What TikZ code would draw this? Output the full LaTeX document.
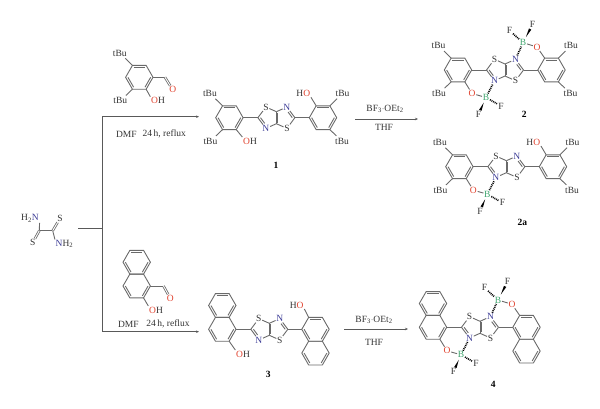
\documentclass[tikz,border=0pt]{standalone}
\usepackage{fontspec}
\setmainfont{Liberation Serif}
\usetikzlibrary{calc,arrows.meta}

\definecolor{bondcol}{HTML}{6A6A6A}
\definecolor{txtcol}{HTML}{333333}
\definecolor{ored}{HTML}{E0402C}
\definecolor{nblue}{HTML}{3C3C96}
\definecolor{bgreen}{HTML}{3FA46E}

\tikzset{
	bond/.style = {draw=bondcol, line width=0.9pt},
	dbond/.style = {draw=bondcol, line width=0.8pt, double=white, double distance=0.9pt},
	hbond/.style = {draw=black, line width=1.7pt, dash pattern=on 0.9pt off 0.9pt},
	rline/.style = {draw=black!65, line width=0.8pt},
	atom/.style = {font=\fontsize{9.5}{9.5}\selectfont, text=txtcol, inner sep=0.6pt},
	oatom/.style = {atom, text=ored},
	natom/.style = {atom, text=nblue},
	batom/.style = {atom, text=bgreen},
	cpd/.style = {font=\fontsize{9.5}{9.5}\selectfont\bfseries, text=black, inner sep=0.5pt},
	cond/.style = {font=\fontsize{9.5}{9.5}\selectfont, text=txtcol, inner sep=0.5pt},
	% one benzene ring, origin in its centre
	hexring/.pic = {
		\coordinate (-c) at (0,0);
		\coordinate (-l) at (-13.7,0);
		\coordinate (-tl) at (-6.85,-11.9);
		\coordinate (-tr) at (6.85,-11.9);
		\coordinate (-r) at (13.7,0);
		\coordinate (-br) at (6.85,11.9);
		\coordinate (-bl) at (-6.85,11.9);
		\draw[bond] (-l) -- (-tl) -- (-tr) -- (-r) -- (-br) -- (-bl) -- cycle;
		\dbl{-l}{-bl}{-c}
		\dbl{-r}{-br}{-c}
	},
	% aryl ring with its two tBu on the west side
	arylw/.pic = {
		\pic (-h) at (0,0) {hexring};
		\node[atom] (-tb1) at (-19.5,-24.3) {tBu};
		\node[atom] (-tb2) at (-19,23.5) {tBu};
		\draw[bond, shorten >=2pt] (-h-tl) -- (-tb1);
		\draw[bond, shorten >=2pt] (-h-bl) -- (-tb2);
		\dbl{-h-tl}{-h-tr}{-h-c}
	},
	% the same with tBu on the east side
	arye/.pic = {
		\pic (-h) at (0,0) {hexring};
		\node[atom] (-tb1) at (19.5,-24.3) {tBu};
		\node[atom] (-tb2) at (19,23.5) {tBu};
		\draw[bond, shorten >=2pt] (-h-tr) -- (-tb1);
		\draw[bond, shorten >=2pt] (-h-br) -- (-tb2);
		\dbl{-h-tl}{-h-tr}{-h-c}
	},
	% two fused rings, the lower one carries the origin
	napht/.pic = {
		\pic (-h) at (0,0) {hexring};
		\pic (-u) at (0,-23.8) {hexring};
		\dbl{-u-tl}{-u-tr}{-u-c}
	},
	ttcore/.pic = {
		\coordinate (-lc) at (-8,0);
		\coordinate (-rc) at (8,0);
		\coordinate (-cl) at (-18.5,0);
		\coordinate (-cr) at (18.5,0);
		\coordinate (-ca) at (0,-6);
		\coordinate (-cb) at (0,6);
		\node[atom] (-s1) at (-10.5,-10.7) {S};
		\node[natom] (-n1) at (-10.5,10.7) {N};
		\node[natom] (-n2) at (10.5,-10.7) {N};
		\node[atom] (-s2) at (10.5,10.7) {S};
		\draw[bond] (-cl) -- (-s1);
		\draw[bond] (-s1) -- (-ca);
		\draw[bond] (-ca) -- (-n2);
		\draw[bond] (-cr) -- (-s2);
		\draw[bond] (-s2) -- (-cb);
		\draw[bond] (-cb) -- (-n1);
		\draw[bond] (-cl) -- (-n1);
		\draw[bond] (-cr) -- (-n2);
		\draw[bond] (-ca) -- (-cb);
		\draw[bond, shorten >=3pt] ($(-cl)!.25!(-lc)$) -- ($(-n1)!.25!(-lc)$);
		\draw[bond, shorten >=3pt] ($(-cr)!.25!(-rc)$) -- ($(-n2)!.25!(-rc)$);
		\dbl{-ca}{-cb}{-rc}
	},
	bflow/.pic = {
		\node[batom] (-b) at (-19,27.5) {B};
		\node[oatom] (-o) at (-33,23.5) {O};
		\node[atom] (-f1) at (-4,36) {F};
		\node[atom] (-f2) at (-26.5,44.5) {F};
		\draw[bond] (-o) -- (-b);
		\draw[hbond] (-b) -- (-f1);
		\wedgeb{-b}{-f2}
	},
	bfup/.pic = {
		\node[batom] (-b) at (18,-27.3) {B};
		\node[oatom] (-o) at (32,-23) {O};
		\node[atom] (-f1) at (4.5,-39.5) {F};
		\node[atom] (-f2) at (27.5,-45.5) {F};
		\draw[bond] (-o) -- (-b);
		\draw[hbond] (-b) -- (-f1);
		\wedgeb{-b}{-f2}
	}
}

% inner line of a ring double bond: end, end, ring centre
\newcommand{\dbl}[3]{\draw[bond] ($(#1)!.17!(#3)$) -- ($(#2)!.17!(#3)$);}
\newcommand{\wedgeb}[2]{\fill[black] ($(#1)!.3!(#2)$) -- ($(#1)!.75!(#2)!1.3pt!90:(#2)$) -- ($(#1)!.75!(#2)!1.3pt!-90:(#2)$) -- cycle;}

\begin{document}
\begin{tikzpicture}[x=1pt, y=-1pt]
	\useasboundingbox (0,0) rectangle (600,408);

	% dithiooxamide
	\coordinate (oxl) at (39.3,230.7);
	\coordinate (oxr) at (52.7,230.7);
	\node[atom] (oxn1) at (30,218.3) {H\textsubscript{2}\textcolor{nblue}{N}};
	\node[atom] (oxs1) at (60,218.3) {S};
	\node[atom] (oxs2) at (32.7,242.7) {S};
	\node[atom] (oxn2) at (64.5,244) {\textcolor{nblue}{N}H\textsubscript{2}};
	\draw[bond] (oxn1.south east) -- (oxl);
	\draw[bond] (oxl) -- (oxr);
	\draw[bond] (oxr) -- (oxn2.north west);
	\draw[dbond] (oxl) -- (oxs2);
	\draw[dbond] (oxr) -- (oxs1);

	% branching reaction lines
	\coordinate (stub) at (78.3,228.3);
	\coordinate (fork) at (102.3,228.3);
	\coordinate (forkt) at (102.3,116.7);
	\coordinate (forkb) at (102.3,331.7);
	\coordinate (arr1) at (199,116.7);
	\coordinate (arr2) at (199,331.7);
	\draw[rline] (stub) -- (fork);
	\draw[rline] (forkt) -- (forkb);
	\draw[rline, -{Stealth[length=3pt,width=2.5pt]}] (forkt) -- (arr1);
	\draw[rline, -{Stealth[length=3pt,width=2.5pt]}] (forkb) -- (arr2);
	\node[cond] (dmf1) at (126.3,134.3) {DMF};
	\node[cond] (time1) at (164.3,134.3) {24\,h, reflux};
	\node[cond] (dmf2) at (128.3,324.3) {DMF};
	\node[cond] (time2) at (168,324.3) {24\,h, reflux};

	% salicylaldehyde
	\pic (ald1) at (139.3,77.3) {arylw};
	\coordinate (ald1c) at (165,77.3);
	\node[oatom] (ald1o) at (172.7,89.7) {O};
	\node[atom] (ald1oh) at (158,100.7) {\textcolor{ored}{O}H};
	\draw[bond] (ald1-h-r) -- (ald1c);
	\draw[dbond] (ald1c) -- (ald1o);
	\draw[bond] (ald1-h-br) -- (ald1oh.north west);

	% naphthaldehyde
	\pic (ald2) at (136.7,286) {napht};
	\coordinate (ald2c) at (163.5,286);
	\node[oatom] (ald2o) at (170.3,298.3) {O};
	\node[atom] (ald2oh) at (156,310) {\textcolor{ored}{O}H};
	\draw[bond] (ald2-h-r) -- (ald2c);
	\draw[dbond] (ald2c) -- (ald2o);
	\draw[bond] (ald2-h-br) -- (ald2oh.north west);

	% compound 1
	\pic (m1) at (276.4,117.7) {ttcore};
	\pic (a1l) at (229.4,117.7) {arylw};
	\pic (a1r) at (323,117.7) {arye};
	\draw[bond] (a1l-h-r) -- (m1-cl);
	\draw[bond] (a1r-h-l) -- (m1-cr);
	\node[atom] (oh1) at (250,141) {\textcolor{ored}{O}H};
	\node[atom] (ho1) at (303.3,93.3) {H\textcolor{ored}{O}};
	\draw[bond] (a1l-h-br) -- (oh1.north west);
	\draw[bond] (a1r-h-tl) -- (ho1.south east);
	\node[cpd] (lab1) at (276,165) {1};

	% compound 2
	\pic (m2) at (505,70) {ttcore};
	\pic (a2l) at (458,70) {arylw};
	\pic (a2r) at (551.5,70) {arye};
	\draw[bond] (a2l-h-r) -- (m2-cl);
	\draw[bond] (a2r-h-l) -- (m2-cr);
	\pic (b2l) at (505,70) {bflow};
	\pic (b2u) at (505,70) {bfup};
	\draw[bond] (a2l-h-br) -- (b2l-o);
	\draw[bond] (a2r-h-tl) -- (b2u-o);
	\draw[hbond] (m2-n1) -- (b2l-b);
	\draw[hbond] (m2-n2) -- (b2u-b);
	\node[cpd] (lab2) at (524.3,114.3) {2};

	% compound 2a
	\pic (m3) at (506.4,166.7) {ttcore};
	\pic (a3l) at (459.4,166.7) {arylw};
	\pic (a3r) at (553,166.7) {arye};
	\draw[bond] (a3l-h-r) -- (m3-cl);
	\draw[bond] (a3r-h-l) -- (m3-cr);
	\pic (b3l) at (506.4,166.7) {bflow};
	\node[atom] (ho3) at (533.3,142) {H\textcolor{ored}{O}};
	\draw[bond] (a3l-h-br) -- (b3l-o);
	\draw[bond] (a3r-h-tl) -- (ho3.south east);
	\draw[hbond] (m3-n1) -- (b3l-b);
	\node[cpd] (lab3) at (522.3,222.7) {2a};

	% compound 3
	\pic (m4) at (269.3,329.3) {ttcore};
	\pic (n4l) at (222.3,329.3) {napht};
	\pic (n4r) at (315.5,353.1) {napht};
	\draw[bond] (n4l-h-r) -- (m4-cl);
	\draw[bond] (n4r-u-l) -- (m4-cr);
	\node[atom] (oh4) at (243,354) {\textcolor{ored}{O}H};
	\node[atom] (ho4) at (296.7,305) {H\textcolor{ored}{O}};
	\draw[bond] (n4l-h-br) -- (oh4.north west);
	\draw[bond] (n4r-u-tl) -- (ho4.south east);
	\node[cpd] (lab4) at (268.3,374) {3};

	% compound 4
	\pic (m5) at (480,327.3) {ttcore};
	\pic (n5l) at (433,327.3) {napht};
	\pic (n5r) at (526.5,351.1) {napht};
	\draw[bond] (n5l-h-r) -- (m5-cl);
	\draw[bond] (n5r-u-l) -- (m5-cr);
	\pic (b5l) at (480,327.3) {bflow};
	\pic (b5u) at (480,327.3) {bfup};
	\draw[bond] (n5l-h-br) -- (b5l-o);
	\draw[bond] (n5r-u-tl) -- (b5u-o);
	\draw[hbond] (m5-n1) -- (b5l-b);
	\draw[hbond] (m5-n2) -- (b5u-b);
	\node[cpd] (lab5) at (493.3,384) {4};

	% BF3 steps
	\coordinate (s1a) at (355,119);
	\coordinate (s1b) at (418,119);
	\draw[rline, -{Stealth[length=3pt,width=2.5pt]}] (s1a) -- (s1b);
	\node[cond] (bf1) at (385,109) {BF\textsubscript{3}$\cdot$OEt\textsubscript{2}};
	\node[cond] (thf1) at (384,127.7) {THF};
	\coordinate (s2a) at (344.3,329);
	\coordinate (s2b) at (408,329);
	\draw[rline, -{Stealth[length=3pt,width=2.5pt]}] (s2a) -- (s2b);
	\node[cond] (bf2) at (374,320) {BF\textsubscript{3}$\cdot$OEt\textsubscript{2}};
	\node[cond] (thf2) at (374,342.7) {THF};
\end{tikzpicture}
\end{document}
